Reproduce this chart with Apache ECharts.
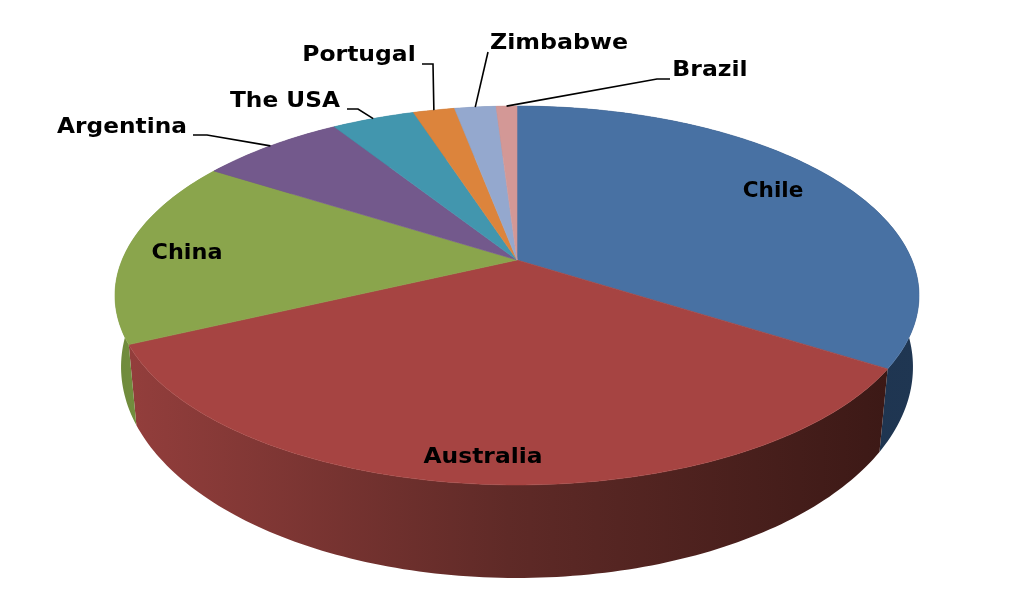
<!DOCTYPE html>
<html><head><meta charset="utf-8">
<style>html,body{margin:0;padding:0;background:#fff}#c{width:1024px;height:589px}</style>
<script src="https://cdn.jsdelivr.net/npm/echarts@6/dist/echarts.min.js"></script>
</head><body><div id="c"></div>
<script>
// Data
const categories = ['Chile','Australia','China','Argentina','The USA','Portugal','Zimbabwe','Brazil'];
const shares = [34, 34, 16, 7, 4, 2, 2, 1];

// Styling
const topColors = ['#4871a3','#a64442','#8aa54c','#73598c','#4296ae','#dc843c','#94a8ce','#d39896'];
const wallStops = [
  [[0,'#1c3048'],[1,'#1f3652']],
  [[0,'#933e3c'],[0.5,'#5f2a27'],[1,'#3c1916']],
  [[0,'#6f8a3c'],[1,'#7d9a44']],
  [[0,'#54406a'],[1,'#54406a']],[[0,'#2c6a7c'],[1,'#2c6a7c']],[[0,'#a0602a'],[1,'#a0602a']],
  [[0,'#6c7c98'],[1,'#6c7c98']],[[0,'#9c706e'],[1,'#9c706e']]
];
// Label layout in page pixels: centre of text, horizontal stretch, optional leader points from text to rim
const labelLayout = [
  {x:773,y:191,sx:0.98},{x:483,y:457,sx:1.063},{x:187,y:253,sx:1.015},
  {x:122,y:127,sx:1.057,leader:[[193,135],[207,135]]},
  {x:285,y:101,sx:1.058,leader:[[347,109],[358,109]]},
  {x:359,y:55,sx:1.066,leader:[[422,64],[433,64]]},
  {x:559,y:43,sx:1.079,leader:[[488,52]]},
  {x:710,y:70,sx:1.07,leader:[[670,79],[657,79]]}
];
// Perspective views of the top disc and of the floor disc
const topView = {cx:517, cy:260, a:394.9, b:182.8, k:0.1873};
const floorView = {cx:517, cy:331.1, a:390.2, b:204.9, k:0.17};

function project(deg, floor){
  const v = floor ? floorView : topView;
  const r = deg*Math.PI/180, X = Math.sin(r), Y = Math.cos(r);
  const w = 1 + v.k*Y;
  return [v.cx + v.a*X/w, v.cy - v.b*Y/w];
}
function arc(a0,a1,floor){
  const pts=[], n=Math.max(2,Math.ceil(Math.abs(a1-a0)));
  for(let i=0;i<=n;i++) pts.push(project(a0+(a1-a0)*i/n,floor));
  return pts;
}
const total = shares.reduce((s,v)=>s+v,0);
const starts = []; shares.reduce((s,v,i)=>{starts[i]=s;return s+v;},0);

const chart = echarts.init(document.getElementById('c'),null,{renderer:'canvas'});
chart.setOption({
  animation:false,
  backgroundColor:'#fff',
  series:[{
    type:'custom',
    coordinateSystem:'none',
    silent:true,
    data:shares.map((v,i)=>({name:categories[i],value:[i,v]})),
    renderItem(params,api){
      const i=api.value(0), v=api.value(1);
      const a0=starts[i]/total*360, a1=(starts[i]+v)/total*360, mid=(a0+a1)/2;
      const children=[];
      children.push({type:'polygon',z2:1,
        shape:{points:arc(a0,a1,false).concat(arc(a1,a0,true))},
        style:{fill:new echarts.graphic.LinearGradient(0,0,1,0,wallStops[i].map(s=>({offset:s[0],color:s[1]}))),lineWidth:0}});
      children.push({type:'polygon',z2:2,
        shape:{points:[[topView.cx,topView.cy]].concat(arc(a0,a1,false))},
        style:{fill:topColors[i],stroke:topColors[i],lineWidth:0.6}});
      const lay=labelLayout[i];
      if(lay.leader){
        children.push({type:'polyline',z2:5,
          shape:{points:lay.leader.concat([project(mid,false)])},
          style:{fill:null,stroke:'#000',lineWidth:1.6}});
      }
      children.push({type:'text',z2:6,x:lay.x,y:lay.y,scaleX:lay.sx,
        style:{text:categories[i],fontFamily:'DejaVu Sans',fontWeight:'bold',fontSize:22,fill:'#000',align:'center',verticalAlign:'middle'}});
      return {type:'group',children};
    }
  }]
});
</script></body></html>
